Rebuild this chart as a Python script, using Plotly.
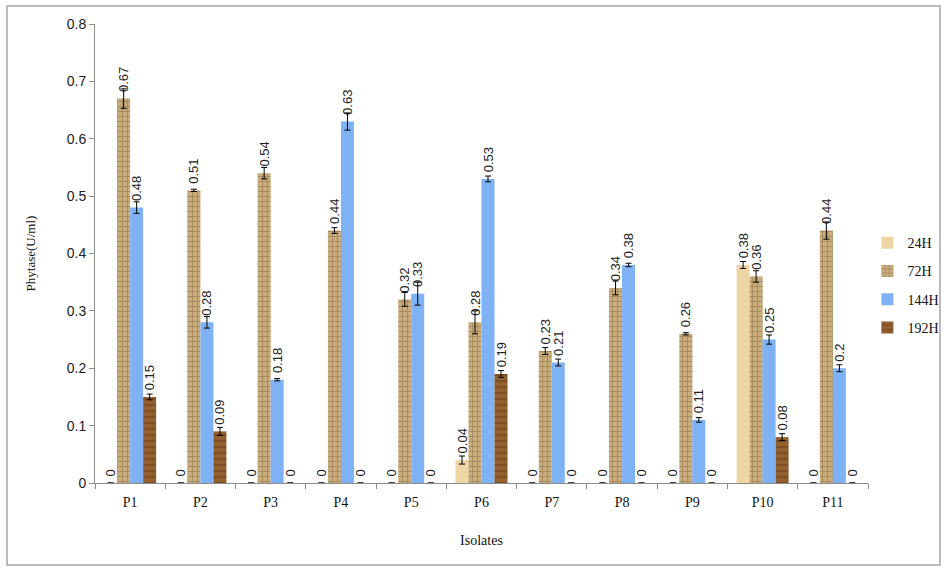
import plotly.graph_objects as go

# Phytase activity (U/ml) per isolate at four incubation times
isolates = ["P1", "P2", "P3", "P4", "P5", "P6", "P7", "P8", "P9", "P10", "P11"]
h24 = [0, 0, 0, 0, 0, 0.04, 0, 0, 0, 0.38, 0]
h72 = [0.67, 0.51, 0.54, 0.44, 0.32, 0.28, 0.23, 0.34, 0.26, 0.36, 0.44]
h144 = [0.48, 0.28, 0.18, 0.63, 0.33, 0.53, 0.21, 0.38, 0.11, 0.25, 0.20]
h192 = [0.15, 0.09, 0, 0, 0, 0.19, 0, 0, 0, 0.08, 0]

# standard errors
err24 = [0, 0, 0, 0, 0, 0.007, 0, 0, 0, 0.006, 0]
err72 = [0.017, 0.002, 0.010, 0.005, 0.012, 0.020, 0.006, 0.012, 0.002, 0.010, 0.015]
err144 = [0.010, 0.010, 0.002, 0.015, 0.020, 0.005, 0.006, 0.003, 0.004, 0.008, 0.006]
err192 = [0.005, 0.007, 0, 0, 0, 0.006, 0, 0, 0, 0.006, 0]

series = [
    ("24H", h24, err24, dict(color="#edd6a4", line=dict(width=0))),
    ("72H", h72, err72, dict(color="#c9ad7c", line=dict(width=0),
                             pattern=dict(shape="+", fgcolor="#85693f", size=5, solidity=0.35))),
    ("144H", h144, err144, dict(color="#7fb2f5", line=dict(width=0))),
    ("192H", h192, err192, dict(color="#94602f", line=dict(width=0),
                               pattern=dict(shape="-", fgcolor="#6a3e1b", size=6, solidity=0.4))),
]

serif = "Liberation Serif"
sans = "Liberation Sans"

fig = go.Figure()
for name, vals, errs, marker in series:
    fig.add_trace(go.Bar(
        name=name,
        legendgroup=name,
        x=isolates,
        y=vals,
        marker=marker,
        error_y=dict(type="data", array=errs, color="black", thickness=1, width=3),
        # a non-breaking space keeps each label clear of its error bar cap
        text=["\u00a0" + str(v) for v in vals],
        textposition="outside",
        textangle=-90,
        constraintext="none",
        cliponaxis=False,
        textfont=dict(family=sans, size=13, color="#222"),
    ))

fig.update_layout(
    width=949,
    height=568,
    barmode="group",
    bargap=0.26,
    bargroupgap=0,
    plot_bgcolor="white",
    paper_bgcolor="white",
    margin=dict(l=95, r=81, t=24, b=85, autoexpand=False),
    uniformtext=dict(mode=False),
    legend=dict(
        xref="container", yref="container",
        x=0.914, y=0.6, xanchor="left", yanchor="top",
        font=dict(family=serif, size=14, color="#111"),
        itemwidth=30, tracegroupgap=7,
        bgcolor="rgba(0,0,0,0)",
    ),
    xaxis=dict(
        title=dict(text="Isolates", font=dict(family=serif, size=14, color="#111"), standoff=26),
        tickfont=dict(family=serif, size=14, color="#111"),
        ticklabelstandoff=6,
        showline=True, linecolor="#8c8c8c", linewidth=1,
        ticks="outside", tickson="boundaries", ticklen=5, tickcolor="#8c8c8c",
        showgrid=False,
    ),
    yaxis=dict(
        title=dict(text="Phytase(U/ml)", font=dict(family=serif, size=13, color="#111"), standoff=28),
        tickfont=dict(family=sans, size=14, color="#222"),
        range=[0, 0.8], dtick=0.1, tickformat=".1~f",
        showline=True, linecolor="#8c8c8c", linewidth=1,
        ticks="outside", ticklen=5, tickcolor="#8c8c8c",
        showgrid=False, zeroline=False,
    ),
    shapes=[dict(
        type="rect", xref="paper", yref="paper",
        x0=-0.1138, x1=1.0931, y0=-0.1786, y1=1.0392,
        line=dict(color="#a6a6a6", width=1.5), fillcolor="rgba(0,0,0,0)", layer="below",
    )],
)

fig.write_html("out.html")
